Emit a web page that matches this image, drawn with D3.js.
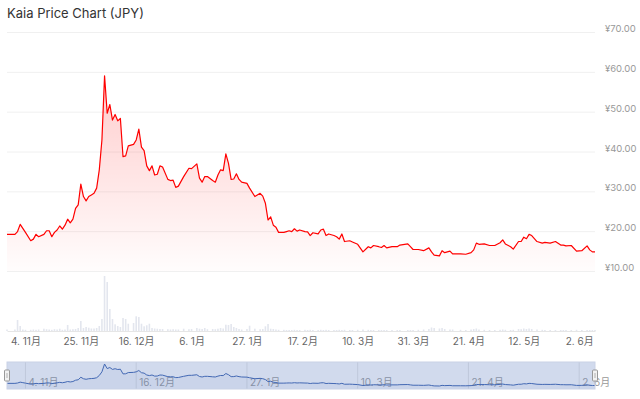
<!DOCTYPE html>
<html lang="ja">

<head>
    <meta charset="UTF-8">
    <title>Kaia Price Chart (JPY)</title>
    <script src="https://d3js.org/d3.v7.min.js"></script>
    <style>
        body { margin: 0; background: #fff; }
        svg text { font-family: Inter, "Noto Sans CJK JP", sans-serif; }
    </style>
</head>

<body>
    <svg width="640" height="399"></svg>
    <script>
        // daily points (JPY)
        const dates = [
            "2024-10-28", "2024-10-31", "2024-11-01", "2024-11-02", "2024-11-03", "2024-11-04", "2024-11-06", "2024-11-07",
            "2024-11-08", "2024-11-09", "2024-11-11", "2024-11-12", "2024-11-13", "2024-11-14", "2024-11-15", "2024-11-16",
            "2024-11-17", "2024-11-18", "2024-11-19", "2024-11-20", "2024-11-21", "2024-11-22", "2024-11-23", "2024-11-24",
            "2024-11-25", "2024-11-26", "2024-11-27", "2024-11-28", "2024-11-29", "2024-11-30", "2024-12-01", "2024-12-02",
            "2024-12-03", "2024-12-04", "2024-12-05", "2024-12-06", "2024-12-07", "2024-12-08", "2024-12-09", "2024-12-10",
            "2024-12-11", "2024-12-12", "2024-12-13", "2024-12-15", "2024-12-16", "2024-12-17", "2024-12-18", "2024-12-19",
            "2024-12-20", "2024-12-21", "2024-12-22", "2024-12-23", "2024-12-24", "2024-12-25", "2024-12-26", "2024-12-28",
            "2024-12-29", "2024-12-30", "2024-12-31", "2025-01-01", "2025-01-03", "2025-01-05", "2025-01-06", "2025-01-08",
            "2025-01-09", "2025-01-10", "2025-01-11", "2025-01-12", "2025-01-14", "2025-01-15", "2025-01-16", "2025-01-17",
            "2025-01-18", "2025-01-19", "2025-01-20", "2025-01-21", "2025-01-22", "2025-01-23", "2025-01-24", "2025-01-25",
            "2025-01-27", "2025-01-28", "2025-01-30", "2025-02-01", "2025-02-02", "2025-02-03", "2025-02-04", "2025-02-05",
            "2025-02-06", "2025-02-07", "2025-02-08", "2025-02-10", "2025-02-11", "2025-02-12", "2025-02-13", "2025-02-14",
            "2025-02-15", "2025-02-16", "2025-02-18", "2025-02-19", "2025-02-20", "2025-02-21", "2025-02-23", "2025-02-24",
            "2025-02-25", "2025-02-26", "2025-02-27", "2025-03-01", "2025-03-02", "2025-03-03", "2025-03-04", "2025-03-05",
            "2025-03-07", "2025-03-08", "2025-03-10", "2025-03-12", "2025-03-14", "2025-03-15", "2025-03-16", "2025-03-18",
            "2025-03-19", "2025-03-20", "2025-03-21", "2025-03-23", "2025-03-25", "2025-03-26", "2025-03-29", "2025-03-30",
            "2025-03-31", "2025-04-02", "2025-04-04", "2025-04-06", "2025-04-07", "2025-04-08", "2025-04-10", "2025-04-11",
            "2025-04-12", "2025-04-14", "2025-04-15", "2025-04-18", "2025-04-20", "2025-04-22", "2025-04-23", "2025-04-24",
            "2025-04-25", "2025-04-27", "2025-04-29", "2025-05-01", "2025-05-03", "2025-05-04", "2025-05-05", "2025-05-07",
            "2025-05-08", "2025-05-10", "2025-05-11", "2025-05-12", "2025-05-13", "2025-05-14", "2025-05-15", "2025-05-17",
            "2025-05-19", "2025-05-20", "2025-05-22", "2025-05-24", "2025-05-26", "2025-05-27", "2025-05-28", "2025-05-30",
            "2025-06-01", "2025-06-03", "2025-06-05", "2025-06-06", "2025-06-07", "2025-06-08"
        ];

        const prices = [
            19.2, 19.2, 19.9, 21.7, 20.7, 19.7, 17.6, 18.0,
            19.2, 18.6, 19.2, 20.1, 20.1, 18.6, 19.7, 20.3,
            21.3, 20.5, 21.5, 23.0, 22.1, 23.0, 25.7, 26.6,
            31.8, 28.7, 27.6, 28.7, 29.1, 29.5, 30.8, 35.4,
            42.9, 59.0, 49.6, 51.8, 47.9, 49.3, 47.7, 48.3,
            38.7, 38.9, 41.4, 41.8, 42.9, 45.6, 41.1, 40.2,
            36.4, 35.2, 36.4, 34.1, 34.3, 36.4, 36.1, 33.0,
            32.7, 32.8, 31.0, 31.3, 33.7, 35.8, 35.7, 36.9,
            33.3, 32.3, 33.7, 33.7, 32.7, 32.3, 34.1, 35.4,
            35.2, 39.4, 37.0, 33.0, 33.1, 34.4, 33.0, 32.3,
            32.0, 30.8, 28.7, 29.5, 28.8, 27.0, 22.8, 23.6,
            21.5, 21.0, 19.7, 19.7, 19.9, 20.1, 19.9, 20.6,
            20.0, 20.3, 19.9, 19.8, 18.9, 19.6, 19.3, 20.3,
            20.5, 18.9, 19.3, 18.9, 18.6, 18.0, 19.3, 17.4,
            17.6, 17.3, 16.7, 14.8, 16.1, 15.8, 16.4, 16.1,
            15.9, 16.4, 15.8, 16.1, 16.1, 16.5, 16.8, 16.1,
            15.4, 15.4, 15.1, 15.8, 14.8, 14.0, 13.8, 15.1,
            14.6, 15.0, 14.3, 14.3, 14.2, 14.6, 15.3, 17.0,
            16.7, 16.8, 16.4, 16.4, 17.1, 17.8, 16.8, 16.1,
            15.5, 17.4, 17.4, 18.5, 18.1, 19.2, 18.9, 17.4,
            17.0, 17.2, 17.0, 17.4, 16.5, 16.5, 16.3, 16.4,
            15.0, 15.1, 16.3, 15.3, 14.8, 14.8
        ];

        // traded volume, relative units (no axis shown)
        const volumes = [
            1.5, 1.5, 11, 5, 1.5, 1.2, 1.2, 1.5,
            1.2, 1.5, 2.3, 1.8, 1.5, 1.2, 1.8, 1.5,
            2.3, 1.2, 1.5, 6, 1.5, 1.8, 2, 3,
            10, 3, 4, 3.3, 2.5, 2.5, 3, 5,
            12, 55, 49, 22, 12, 6.7, 5, 4,
            13, 12, 7.3, 8, 14.7, 14, 7.3, 4.7,
            5.7, 7.3, 3, 2.5, 2.3, 2, 2, 1.8,
            1.5, 1.8, 1.5, 1.5, 2.3, 1.8, 2, 3,
            2.3, 2, 3, 1.8, 2, 1.8, 2.3, 3,
            2.5, 6.3, 6, 7, 4, 3, 2, 1.5,
            2, 5.3, 2.3, 1.8, 2, 4.7, 7, 2.3,
            2, 1.5, 1.2, 1.2, 1, 1, 1, 1.2,
            1, 1, 1.2, 1, 1.2, 1, 1, 1.2,
            1, 1.2, 1, 1, 1, 1.2, 1, 1.2,
            1, 1, 1.2, 1.5, 1.2, 1, 1, 1,
            1, 1, 1, 1, 1, 1, 1, 1,
            1, 1.2, 1.5, 2, 3.5, 3, 2.5, 3,
            2, 1.5, 1.5, 1.2, 1, 1.5, 2, 2.5,
            1.5, 1.2, 1, 1, 1.2, 1.5, 1.2, 1,
            1.2, 2, 1.8, 2.5, 2, 2.5, 2, 1.5,
            1.2, 1, 1, 1, 1, 1, 1, 1,
            1.2, 1, 1, 1, 1, 1
        ];

        const priceTicks = [10, 20, 30, 40, 50, 60, 70];
        const dateTicks = ["2024-11-04", "2024-11-25", "2024-12-16", "2025-01-06", "2025-01-27", "2025-02-17",
            "2025-03-10", "2025-03-31", "2025-04-21", "2025-05-12", "2025-06-02"];
        const navTicks = ["2024-11-04", "2024-12-16", "2025-01-27", "2025-03-10", "2025-04-21", "2025-06-02"];

        const parse = d3.utcParse("%Y-%m-%d");
        const fmt = d => `${d.getUTCDate()}. ${d.getUTCMonth() + 1}月`;
        const data = dates.map((d, i) => ({ date: parse(d), price: prices[i], vol: volumes[i] }));

        const left = 7, right = 595;
        const svg = d3.select("svg");

        const x = d3.scaleUtc()
            .domain(d3.extent(data, d => d.date))
            .range([left, right]);

        const y = d3.scaleLinear().domain([10, 70]).range([271, 32]);
        const yVol = d3.scaleLinear().domain([0, 60]).range([331, 271]);

        // title
        svg.append("text")
            .attr("x", 7).attr("y", 18)
            .attr("font-size", 13)
            .attr("fill", "#333")
            .text("Kaia Price Chart (JPY)");

        // horizontal grid + right labels
        const yAxis = svg.append("g")
            .attr("transform", `translate(${right},0)`)
            .call(d3.axisRight(y).tickValues(priceTicks)
                .tickSize(-(right - left))
                .tickFormat(d => "¥" + d.toFixed(2)));
        yAxis.select(".domain").remove();
        yAxis.selectAll(".tick line").attr("stroke", "#f0f0f0");
        yAxis.selectAll(".tick text")
            .attr("x", 10).attr("dy", "-0.05em")
            .attr("font-size", 9.5).attr("fill", "#999");

        // price area with fading red fill
        const grad = svg.append("defs").append("linearGradient")
            .attr("id", "redFade").attr("x1", 0).attr("y1", 0).attr("x2", 0).attr("y2", 1);
        grad.append("stop").attr("offset", 0).attr("stop-color", "rgb(255,0,0)").attr("stop-opacity", 0.2);
        grad.append("stop").attr("offset", 1).attr("stop-color", "rgb(255,0,0)").attr("stop-opacity", 0.01);

        svg.append("path")
            .datum(data)
            .attr("fill", "url(#redFade)")
            .attr("d", d3.area().x(d => x(d.date)).y0(y(10)).y1(d => y(d.price)));

        svg.append("path")
            .datum(data)
            .attr("fill", "none")
            .attr("stroke", "#ff0000")
            .attr("stroke-width", 1.2)
            .attr("stroke-linejoin", "round")
            .attr("d", d3.line().x(d => x(d.date)).y(d => y(d.price)));

        // volume bars
        svg.append("g")
            .selectAll("rect")
            .data(data)
            .enter().append("rect")
            .attr("x", d => x(d.date) - 0.8)
            .attr("y", d => yVol(d.vol))
            .attr("width", 1.6)
            .attr("height", d => yVol(0) - yVol(d.vol))
            .attr("fill", "#e3e6ee");

        // bottom axis
        const xAxis = svg.append("g")
            .attr("transform", `translate(0,${yVol(0)})`)
            .call(d3.axisBottom(x).tickValues(dateTicks.map(parse)).tickSize(0).tickFormat(fmt));
        xAxis.select(".domain").attr("stroke", "#e6e6e6");
        xAxis.selectAll(".tick text")
            .attr("dy", 0).attr("y", 14)
            .attr("font-size", 10).attr("fill", "#666");

        // navigator
        const navTop = 362, navBot = 389;
        const yNav = d3.scaleLinear().domain(d3.extent(prices)).range([386, 364]);
        const nav = svg.append("g");

        nav.selectAll("line.grid")
            .data(navTicks.map(parse))
            .enter().append("line")
            .attr("x1", d => x(d)).attr("x2", d => x(d))
            .attr("y1", navTop).attr("y2", navBot)
            .attr("stroke", "#e6e6e6");

        nav.selectAll("text")
            .data(navTicks.map(parse))
            .enter().append("text")
            .attr("x", d => x(d) + 3)
            .attr("y", 386)
            .attr("font-size", 10)
            .attr("fill", "#999")
            .text(fmt);

        nav.append("path")
            .datum(data)
            .attr("fill", "rgba(51,92,173,0.05)")
            .attr("d", d3.area().x(d => x(d.date)).y0(navBot).y1(d => yNav(d.price)));

        nav.append("path")
            .datum(data)
            .attr("fill", "none")
            .attr("stroke", "#335cad")
            .attr("stroke-width", 1)
            .attr("d", d3.line().x(d => x(d.date)).y(d => yNav(d.price)));

        nav.append("rect")
            .attr("x", left).attr("y", navTop)
            .attr("width", right - left).attr("height", navBot - navTop)
            .attr("fill", "rgba(102,133,194,0.3)")
            .attr("stroke", "#c9d2e6");

        [left, right].forEach(hx => {
            nav.append("rect")
                .attr("x", hx - 2.5).attr("y", 370)
                .attr("width", 5).attr("height", 11)
                .attr("rx", 1)
                .attr("fill", "#f2f2f2").attr("stroke", "#999");
            nav.append("path")
                .attr("d", `M${hx - 0.5},373V378M${hx + 0.5},373V378`)
                .attr("stroke", "#bbb")
                .attr("stroke-width", 0.6);
        });
    </script>
</body>

</html>
